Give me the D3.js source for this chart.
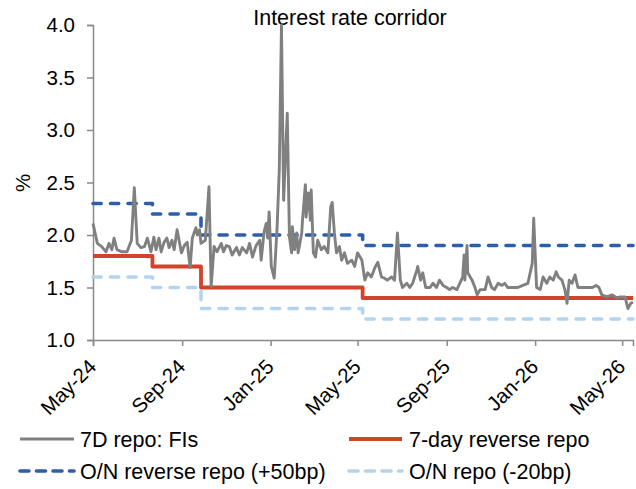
<!DOCTYPE html>
<html>
<head>
<meta charset="utf-8">
<script src="https://cdn.jsdelivr.net/npm/d3@7/dist/d3.min.js"></script>
<style>
  html, body { margin: 0; padding: 0; background: #fff; }
  svg { display: block; font-family: "Liberation Sans", Arial, sans-serif; }
</style>
</head>
<body>
<svg id="chart" width="636" height="489"></svg>
<script>
// 7-day repo rate for financial institutions (daily fixings, %)
const fiDates = [
  "2024-05-01","2024-05-07","2024-05-13","2024-05-19","2024-05-23","2024-05-27","2024-05-30","2024-06-03",
  "2024-06-10","2024-06-17","2024-06-23","2024-06-27","2024-07-01","2024-07-06","2024-07-11","2024-07-15",
  "2024-07-20","2024-07-24","2024-07-27","2024-07-31","2024-08-03","2024-08-07","2024-08-11","2024-08-14",
  "2024-08-18","2024-08-21","2024-08-25","2024-08-31","2024-09-04","2024-09-08","2024-09-12","2024-09-15",
  "2024-09-20","2024-09-22","2024-09-25","2024-09-27","2024-10-03","2024-10-08","2024-10-11","2024-10-15",
  "2024-10-19","2024-10-25","2024-10-28","2024-11-01","2024-11-05","2024-11-09","2024-11-15","2024-11-19",
  "2024-11-23","2024-11-29","2024-12-03","2024-12-07","2024-12-12","2024-12-17","2024-12-19","2024-12-23",
  "2024-12-26","2024-12-28","2024-12-30","2025-01-02","2025-01-06","2025-01-10","2025-01-13","2025-01-16",
  "2025-01-19","2025-01-24","2025-01-27","2025-01-30","2025-01-31","2025-02-03","2025-02-06","2025-02-08",
  "2025-02-13","2025-02-14","2025-02-18","2025-02-19","2025-02-22","2025-02-25","2025-02-26","2025-03-01",
  "2025-03-04","2025-03-07","2025-03-12","2025-03-16","2025-03-21","2025-03-25","2025-03-27","2025-03-30",
  "2025-04-02","2025-04-06","2025-04-09","2025-04-13","2025-04-17","2025-04-23","2025-04-27","2025-05-01",
  "2025-05-07","2025-05-11","2025-05-15","2025-05-20","2025-05-25","2025-05-29","2025-06-03","2025-06-07",
  "2025-06-11","2025-06-17","2025-06-21","2025-06-25","2025-06-29","2025-07-02","2025-07-08","2025-07-12",
  "2025-07-16","2025-07-22","2025-07-23","2025-07-27","2025-07-30","2025-08-03","2025-08-09","2025-08-13",
  "2025-08-18","2025-08-22","2025-08-27","2025-09-01","2025-09-05","2025-09-09","2025-09-15","2025-09-19",
  "2025-09-23","2025-09-25","2025-09-26","2025-09-29","2025-09-30","2025-10-06","2025-10-10","2025-10-13",
  "2025-10-17","2025-10-24","2025-10-28","2025-11-02","2025-11-06","2025-11-11","2025-11-16","2025-11-20",
  "2025-11-24","2025-12-01","2025-12-08","2025-12-15","2025-12-22","2025-12-28","2025-12-30","2026-01-03",
  "2026-01-08","2026-01-12","2026-01-17","2026-01-21","2026-01-26","2026-01-30","2026-02-02","2026-02-07",
  "2026-02-11","2026-02-14","2026-02-17","2026-02-21","2026-02-25","2026-03-01","2026-03-07","2026-03-14",
  "2026-03-21","2026-03-26","2026-03-30","2026-04-03","2026-04-10","2026-04-17","2026-04-24","2026-04-28",
  "2026-05-05","2026-05-09","2026-05-13","2026-05-16"
];
const fiRates = [
  2.11,1.92,1.89,1.84,1.92,1.86,1.97,1.86,
  1.84,1.84,1.95,2.45,1.92,1.88,1.89,1.97,
  1.84,1.98,1.86,1.97,1.84,1.93,1.97,1.88,
  1.95,1.86,2.05,1.83,1.90,1.93,1.69,1.97,
  2.07,2.00,2.05,1.92,1.95,2.46,1.51,1.89,
  1.84,1.92,1.84,1.90,1.89,1.81,1.88,1.81,
  1.88,1.83,1.92,1.79,1.90,1.95,1.76,2.03,
  2.11,1.97,2.22,1.70,1.59,2.07,2.62,4.00,
  2.33,3.16,1.98,1.83,2.08,1.86,2.02,1.83,
  2.02,2.14,2.48,2.17,2.40,2.14,2.43,1.83,
  1.79,1.95,1.86,1.89,1.83,2.27,2.31,2.02,
  1.83,1.89,1.76,1.83,1.73,1.76,1.70,1.83,
  1.76,1.57,1.64,1.60,1.69,1.74,1.60,1.59,
  1.57,1.60,1.57,2.02,1.57,1.50,1.54,1.50,
  1.54,1.67,1.70,1.57,1.64,1.50,1.50,1.54,
  1.50,1.57,1.52,1.50,1.48,1.50,1.48,1.54,
  1.60,1.81,1.57,1.90,1.64,1.57,1.50,1.43,
  1.48,1.48,1.60,1.50,1.48,1.54,1.52,1.54,
  1.50,1.50,1.50,1.52,1.54,1.73,2.16,1.50,
  1.48,1.60,1.54,1.60,1.57,1.65,1.60,1.57,
  1.48,1.35,1.57,1.54,1.62,1.50,1.50,1.50,
  1.50,1.52,1.50,1.43,1.41,1.43,1.40,1.41,
  1.41,1.30,1.35,1.36
];

// Policy corridor: dates on which the rates changed, and the rate from that date on (%)
const policyDates     = ["2024-05-01","2024-07-22","2024-09-27","2025-05-08","2026-05-16"];
const reverseRepo7d   = [1.8, 1.7, 1.5, 1.4, 1.4];
const onReverseRepo   = [2.3, 2.2, 2.0, 1.9, 1.9];   // ceiling: +50bp
const onRepo          = [1.6, 1.5, 1.3, 1.2, 1.2];   // floor: -20bp

const xTickDates = ["2024-05-01","2024-09-01","2025-01-01","2025-05-01","2025-09-01","2026-01-01","2026-05-01"];
const yTicks = [1.0, 1.5, 2.0, 2.5, 3.0, 3.5, 4.0];

const parse = d3.timeParse("%Y-%m-%d");
const fmtMonth = d3.timeFormat("%b-%y");

const svg = d3.select("#chart");
const plot = { left: 93, right: 633, top: 25, bottom: 340 };

const x = d3.scaleTime()
  .domain([parse("2024-05-01"), parse("2026-05-16")])
  .range([plot.left, plot.right]);
const y = d3.scaleLinear()
  .domain([1, 4])
  .range([plot.bottom, plot.top]);

const axisColor = "#898989";

// Y axis
const yAxis = svg.append("g")
  .attr("transform", `translate(${plot.left},0)`)
  .call(d3.axisLeft(y).tickValues(yTicks).tickFormat(d3.format(".1f")).tickSizeOuter(0).tickSize(6).tickPadding(12));
yAxis.select(".domain").attr("stroke", axisColor).attr("stroke-width", 1.5);
yAxis.selectAll(".tick line").attr("stroke", axisColor).attr("stroke-width", 1.5);
yAxis.selectAll(".tick text")
  .attr("fill", "#000").attr("font-size", 20.5).attr("font-family", "Liberation Sans, Arial, sans-serif");

// X axis
const xAxis = svg.append("g")
  .attr("transform", `translate(0,${plot.bottom})`)
  .call(d3.axisBottom(x).tickValues(xTickDates.map(parse)).tickFormat(fmtMonth).tickSizeOuter(0).tickSize(6));
xAxis.select(".domain").attr("stroke", axisColor).attr("stroke-width", 1.5);
xAxis.selectAll(".tick line").attr("stroke", axisColor).attr("stroke-width", 1.5);
xAxis.selectAll(".tick text")
  .attr("fill", "#000").attr("font-size", 20.5).attr("font-family", "Liberation Sans, Arial, sans-serif")
  .attr("text-anchor", "end")
  .attr("x", 0).attr("y", 0).attr("dy", 0)
  .attr("transform", "translate(4,28) rotate(-45)");

// Y axis title
svg.append("text")
  .attr("transform", `translate(30,183) rotate(-90)`)
  .attr("text-anchor", "middle")
  .attr("font-size", 20.5)
  .text("%");

// Chart title
svg.append("text")
  .attr("x", 350).attr("y", 25)
  .attr("text-anchor", "middle")
  .attr("font-size", 21.5)
  .text("Interest rate corridor");

// Series definitions
const fiSeries = fiDates.map((d, i) => ({ date: parse(d), value: fiRates[i] }));
const toSteps = vals => policyDates.map((d, i) => ({ date: parse(d), value: vals[i] }));

const stepLine = d3.line().x(d => x(d.date)).y(d => y(d.value)).curve(d3.curveStepAfter);
const plainLine = d3.line().x(d => x(d.date)).y(d => y(d.value));

const series = [
  { name: "O/N repo (-20bp)", data: toSteps(onRepo), color: "#B3D4EE", width: 3.6, dash: "8.2 9.3", gen: stepLine },
  { name: "O/N reverse repo (+50bp)", data: toSteps(onReverseRepo), color: "#2E5DAA", width: 3.6, dash: "8.2 9.3", gen: stepLine },
  { name: "7-day reverse repo", data: toSteps(reverseRepo7d), color: "#D1432A", width: 3.8, dash: null, gen: stepLine },
  { name: "7D repo: FIs", data: fiSeries, color: "#808080", width: 2.9, dash: null, gen: plainLine }
];

svg.append("g").selectAll("path")
  .data(series)
  .join("path")
  .attr("d", s => s.gen(s.data))
  .attr("fill", "none")
  .attr("stroke", s => s.color)
  .attr("stroke-width", s => s.width)
  .attr("stroke-dasharray", s => s.dash)
  .attr("stroke-linecap", s => s.dash ? "round" : "butt")
  .attr("stroke-linejoin", "round");

// Legend: two rows, two columns
const legendItems = [
  { s: series[3], col: 0, row: 0 },
  { s: series[2], col: 1, row: 0 },
  { s: series[1], col: 0, row: 1 },
  { s: series[0], col: 1, row: 1 }
];
const colX = [18, 347];
const rowY = [439, 471];
const leg = svg.append("g").selectAll("g")
  .data(legendItems)
  .join("g")
  .attr("transform", d => `translate(${colX[d.col]},${rowY[d.row]})`);
leg.append("line")
  .attr("x1", 2).attr("x2", d => d.col === 0 ? 56 : 55)
  .attr("stroke", d => d.s.color)
  .attr("stroke-width", d => d.s.width)
  .attr("stroke-dasharray", d => d.s.dash ? "9 7.5" : null)
  .attr("stroke-linecap", d => d.s.dash ? "round" : "butt");
leg.append("text")
  .attr("x", 62)
  .attr("y", 7.5)
  .attr("font-size", 21.5)
  .text(d => d.s.name);
</script>
</body>
</html>
